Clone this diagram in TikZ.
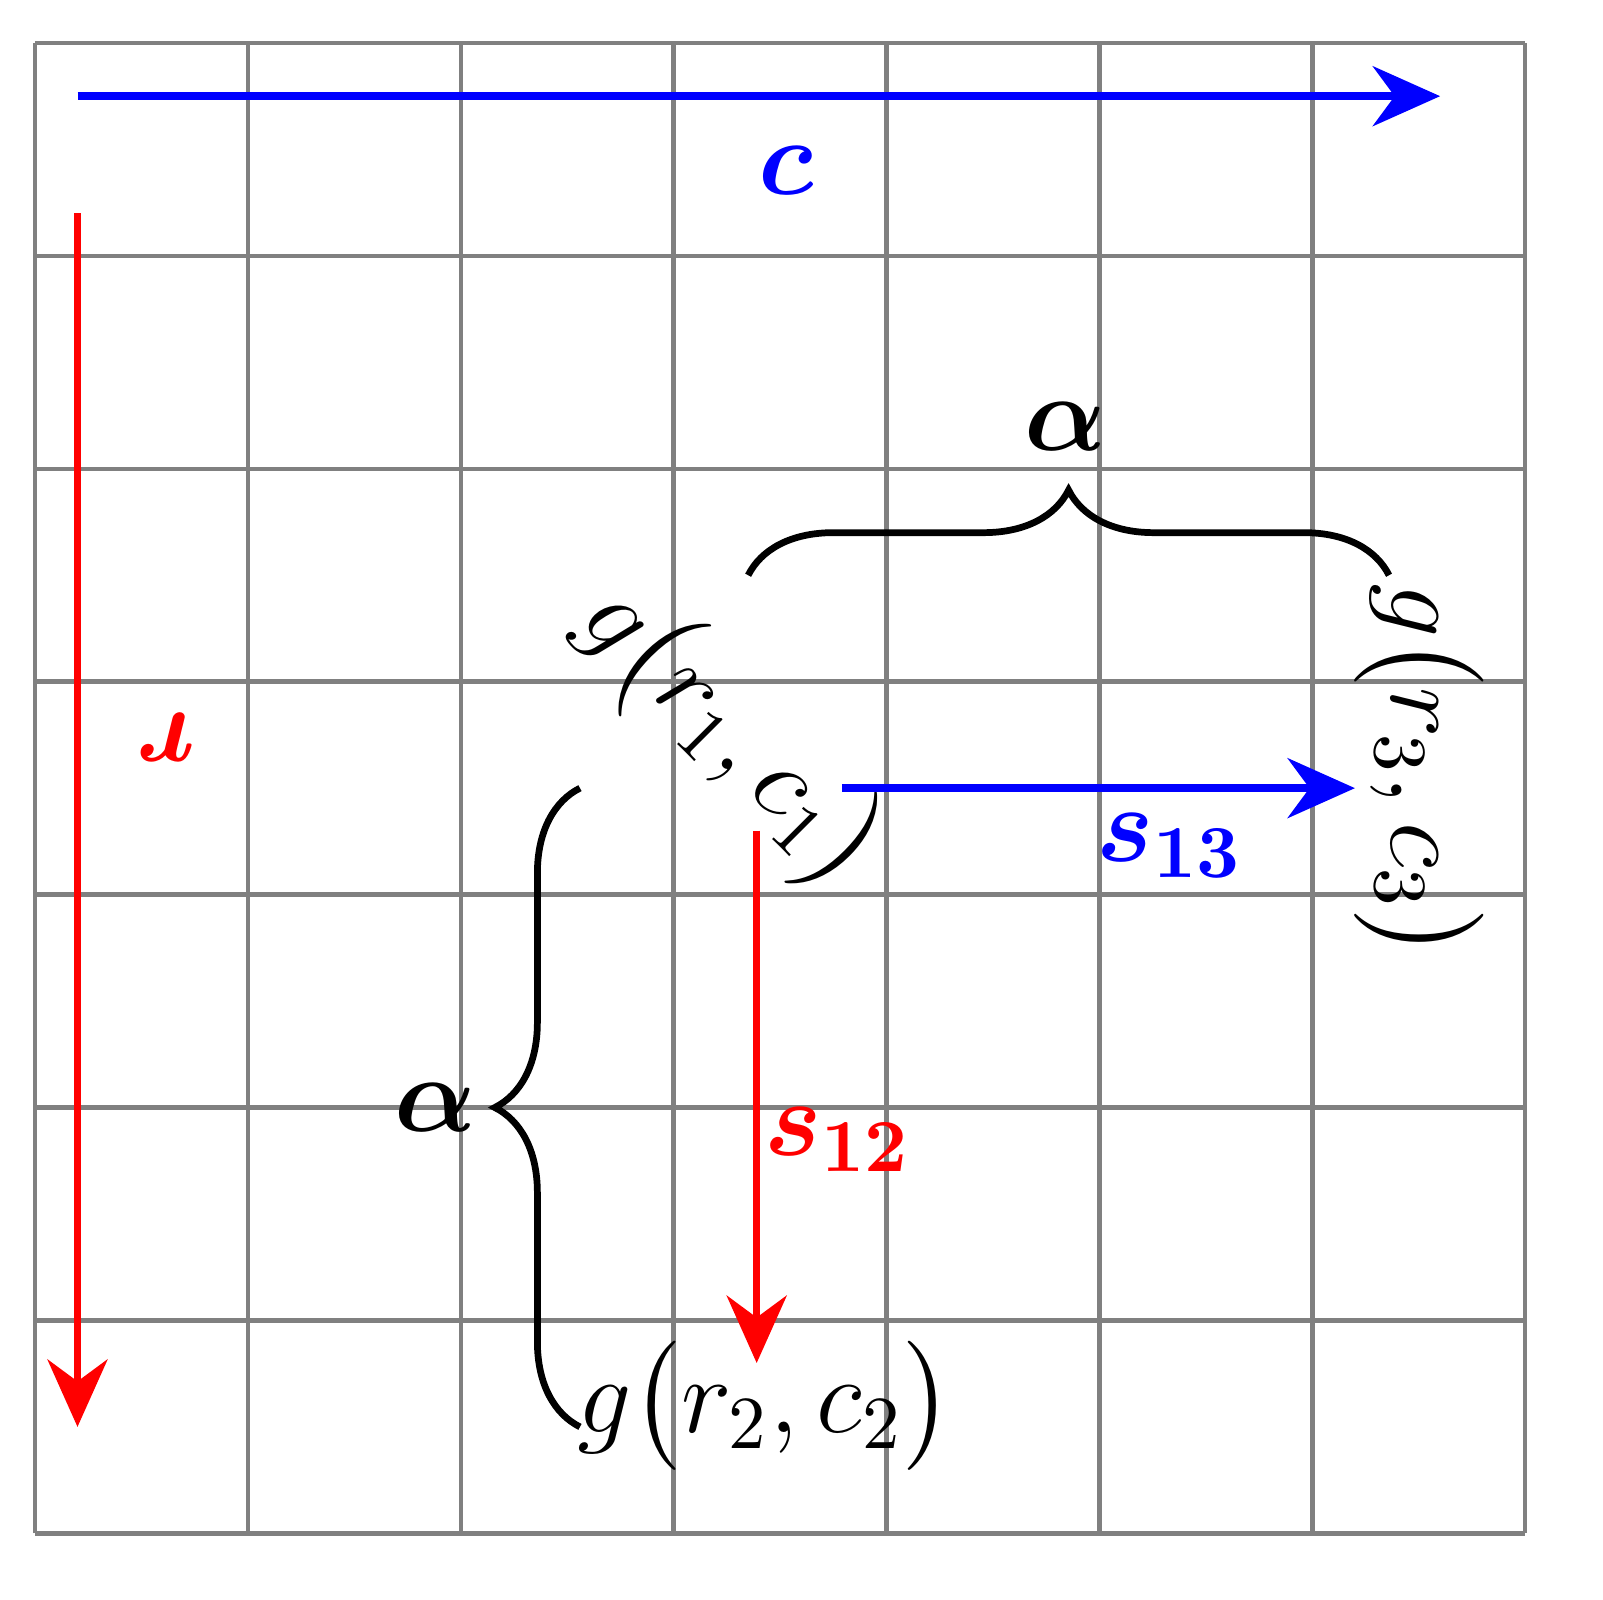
\documentclass[tikz,border=0pt]{standalone}
\usepackage{amsmath,bm}
\usetikzlibrary{decorations.pathreplacing,arrows.meta}
\begin{document}
\begin{tikzpicture}[
  arr/.style={line width=1pt,-{Stealth[length=9pt,width=8pt]}},
  brc/.style={line width=0.9pt,decorate,decoration={brace,amplitude=0.4cm}},
  lbl/.style={font=\Large}]
\useasboundingbox (-0.164,-0.313) rectangle (7.365,7.202);
\draw[gray,line width=0.6pt] (0,0) grid (7,7);
\coordinate (ca) at (0.2,6.75); \coordinate (cb) at (6.6,6.75);
\draw[arr,blue] (ca) -- (cb);
\node[lbl,blue] (cl) at (3.53,6.4) {$\bm{c}$};
\coordinate (ra) at (0.2,6.2); \coordinate (rb) at (0.2,0.5);
\draw[arr,red] (ra) -- (rb);
\node[lbl,red,rotate=180] (rl) at (0.61,3.74) {$\bm{r}$};
\node[lbl,rotate=-45] (g1) at (3.26,3.75) {$g\big(r_1,c_1\big)$};
\node[lbl,rotate=-90] (g3) at (6.5,3.58) {$g\big(r_3,c_3\big)$};
\node[lbl] (g2) at (3.43,0.6) {$g\big(r_2,c_2\big)$};
\coordinate (sa) at (3.79,3.5); \coordinate (sb) at (6.2,3.5);
\draw[arr,blue] (sa) -- (sb);
\node[lbl,blue] (s13) at (5.33,3.23) {$\bm{s_{13}}$};
\coordinate (ta) at (3.39,3.3); \coordinate (tb) at (3.39,0.8);
\draw[arr,red] (ta) -- (tb);
\node[lbl,red] (s12) at (3.77,1.85) {$\bm{s_{12}}$};
\coordinate (b1a) at (3.35,4.5); \coordinate (b1b) at (6.36,4.5);
\draw[brc] (b1a) -- (b1b);
\node[lbl] (a1) at (4.84,5.2) {$\bm{\alpha}$};
\coordinate (b2a) at (2.56,0.5); \coordinate (b2b) at (2.56,3.5);
\draw[brc] (b2a) -- (b2b);
\node[lbl] (a2) at (1.88,2.0) {$\bm{\alpha}$};
\end{tikzpicture}
\end{document}
